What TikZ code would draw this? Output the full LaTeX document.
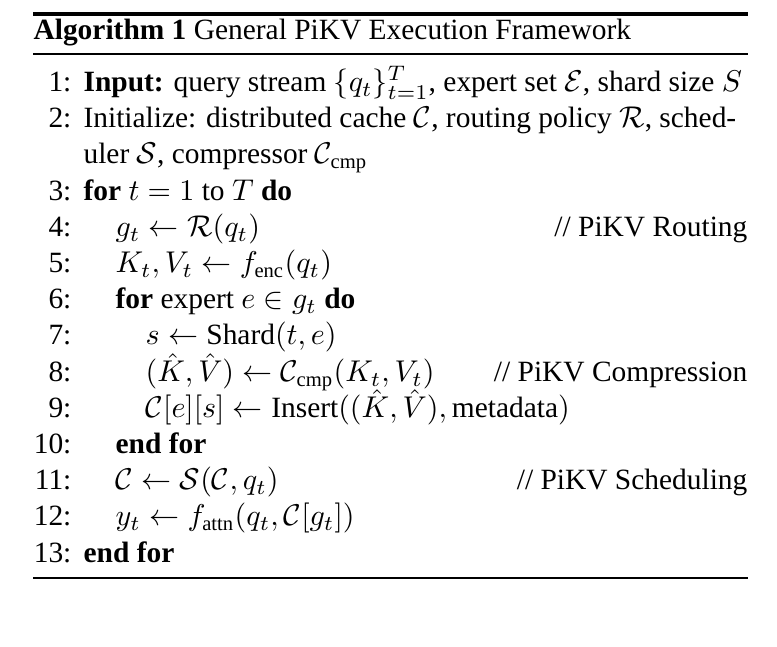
\documentclass[tikz,border=0pt]{standalone}
\usepackage{amsmath,amssymb}
\usepackage{fontspec}
\setmainfont{Liberation Serif}
\tikzset{
  num/.style={anchor=mid east, inner sep=0pt},
  code/.style={anchor=mid west, inner sep=0pt},
  note/.style={anchor=mid east, inner sep=0pt},
}
\begin{document}
\begin{tikzpicture}[x=0.333pt, y=-0.333pt, font=\fontsize{9.8}{12}\selectfont]
      \useasboundingbox (0,0) rectangle (777,647);
      \draw [line width=1.2pt] (33,14) -- (748,14);
      \draw [line width=0.5pt] (33,54) -- (748,54);
      \draw [line width=0.5pt] (33,578) -- (748,578);
      \node (head) [code] at (33,33) {\textbf{Algorithm 1} General PiKV Execution Framework};
      % line numbers
      \foreach \n/\y in {1/85,2/121,3/194,4/230,5/266,6/302,7/338,8/375,9/411,10/447,11/483,12/519,13/556}
        \node (n\n) [num] at (72,\y) {\n:};
      % code lines
      \node (l1) [code] at (83,85) {\textbf{Input:} query stream $\{q_t\}_{t=1}^{T}$, expert set $\mathcal{E}$, shard size $S$};
      \node (l2) [code] at (83,121) {Initialize: distributed cache $\mathcal{C}$, routing policy $\mathcal{R}$, sched-};
      \node (l2b) [code] at (83,157) {uler $\mathcal{S}$, compressor $\mathcal{C}_{\text{cmp}}$};
      \node (l3) [code] at (83,194) {\textbf{for} $t=1$ to $T$ \textbf{do}};
      \node (l4) [code] at (115,230) {$g_t \leftarrow \mathcal{R}(q_t)$};
      \node (l5) [code] at (115,266) {$K_t, V_t \leftarrow f_{\text{enc}}(q_t)$};
      \node (l6) [code] at (115,302) {\textbf{for} expert $e \in g_t$ \textbf{do}};
      \node (l7) [code] at (145,338) {$s \leftarrow \text{Shard}(t,e)$};
      \node (l8) [code] at (145,375) {$(\hat{K},\hat{V}) \leftarrow \mathcal{C}_{\text{cmp}}(K_t,V_t)$};
      \node (l9) [code] at (145,411) {$\mathcal{C}[e][s] \leftarrow \text{Insert}((\hat{K},\hat{V}), \text{metadata})$};
      \node (l10) [code] at (115,447) {\textbf{end for}};
      \node (l11) [code] at (115,483) {$\mathcal{C} \leftarrow \mathcal{S}(\mathcal{C}, q_t)$};
      \node (l12) [code] at (115,519) {$y_t \leftarrow f_{\text{attn}}(q_t, \mathcal{C}[g_t])$};
      \node (l13) [code] at (83,556) {\textbf{end for}};
      % comments
      \node (c4) [note] at (748,230) {// PiKV Routing};
      \node (c8) [note] at (748,375) {// PiKV Compression};
      \node (c11) [note] at (748,483) {// PiKV Scheduling};
    \end{tikzpicture}
\end{document}
